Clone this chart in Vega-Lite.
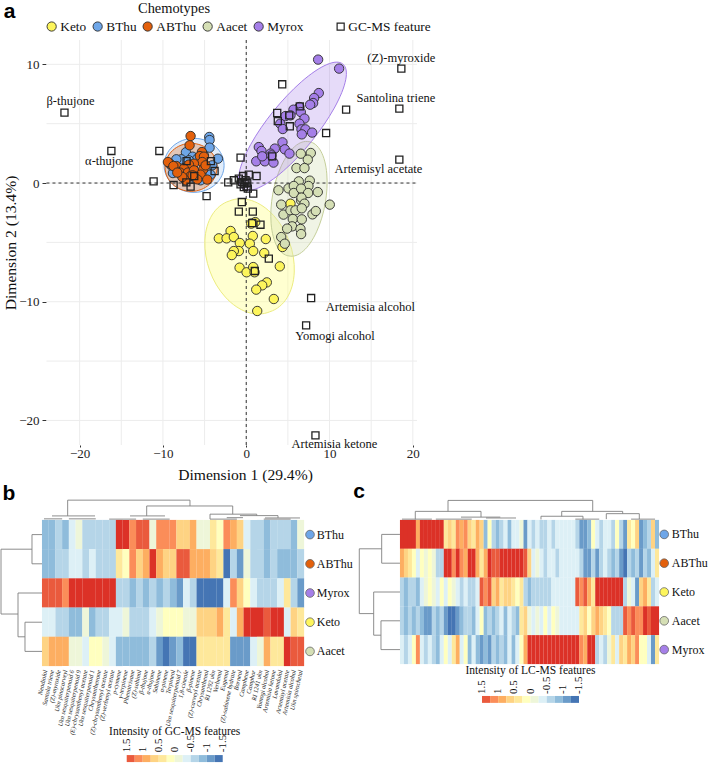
{"$schema":"https://vega.github.io/schema/vega-lite/v6.json","padding":{"top":1,"left":0,"right":0,"bottom":0},"autosize":{"type":"pad"},"background":"white","config":{"font":"Liberation Serif","view":{"stroke":null}},"columns":1,"align":"none","spacing":-2,"bounds":"full","concat":[
{"width":417,"height":405,"layer":[
{"data":{"values":[{"value":-20},{"value":-15},{"value":-10},{"value":-5},{"value":0},{"value":5},{"value":10},{"value":15},{"value":20}]},"mark":{"type":"rule","color":"#ececec","strokeWidth":1},"encoding":{"x":{"field":"value","type":"quantitative","scale":{"domain":[-29.56,20.5],"nice":false,"zero":false},"axis":{"title":"Dimension 1 (29.4%)","values":[-20,-10,0,10,20],"grid":false,"domain":false,"tickSize":2,"tickColor":"#333","labelFontSize":13,"labelColor":"#222","labelPadding":0,"titleFontSize":15.6,"titleFontWeight":"normal","titleColor":"#111","titleX":245,"titleY":22}},"y":{"datum":-22.07,"type":"quantitative","scale":{"domain":[-22.07,12.05],"nice":false,"zero":false},"axis":{"title":"Dimension 2 (13.4%)","offset":-46,"values":[-20,-10,0,10],"grid":false,"domain":false,"tickSize":4,"tickColor":"#333","labelFontSize":13,"labelColor":"#222","labelPadding":3,"titleFontSize":15.6,"titleFontWeight":"normal","titleColor":"#111","titlePadding":0}},"y2":{"datum":12.05}}},
{"data":{"values":[{"value":-20},{"value":-15},{"value":-10},{"value":-5},{"value":0},{"value":5},{"value":10}]},"mark":{"type":"rule","color":"#ececec","strokeWidth":1},"encoding":{"y":{"field":"value","type":"quantitative","scale":{"domain":[-22.07,12.05],"nice":false,"zero":false}},"x":{"datum":-23.98,"type":"quantitative","scale":{"domain":[-29.56,20.5],"nice":false,"zero":false}},"x2":{"datum":20.5}}},
{"data":{"values":[{"chemotype":"Keto","x":0.40,"y":-6.18}]},"mark":{"type":"point","shape":"M-20.2 -55.4A59 41 70 1 1 20.2 55.4A59 41 70 1 1 -20.2 -55.4Z","size":4,"filled":true,"fill":"#ffff90","fillOpacity":0.42,"stroke":"#ecec80","strokeWidth":1,"opacity":1},"encoding":{"x":{"field":"x","type":"quantitative","scale":{"domain":[-29.56,20.5],"nice":false,"zero":false}},"y":{"field":"y","type":"quantitative","scale":{"domain":[-22.07,12.05],"nice":false,"zero":false}}}},
{"data":{"values":[{"chemotype":"Aacet","x":6.33,"y":-1.33}]},"mark":{"type":"point","shape":"M-10.07 57.1A58 26 -80 1 1 10.07 -57.1A58 26 -80 1 1 -10.07 57.1Z","size":4,"filled":true,"fill":"#d5dfb5","fillOpacity":0.35,"stroke":"#c5cf9a","strokeWidth":1,"opacity":1},"encoding":{"x":{"field":"x","type":"quantitative","scale":{"domain":[-29.56,20.5],"nice":false,"zero":false}},"y":{"field":"y","type":"quantitative","scale":{"domain":[-22.07,12.05],"nice":false,"zero":false}}}},
{"data":{"values":[{"chemotype":"Myrox","x":5.55,"y":4.78}]},"mark":{"type":"point","shape":"M-50.3 62.2A80 24 -51 1 1 50.3 -62.2A80 24 -51 1 1 -50.3 62.2Z","size":4,"filled":true,"fill":"#a57fe8","fillOpacity":0.28,"stroke":"#a57fe8","strokeWidth":1,"opacity":1},"encoding":{"x":{"field":"x","type":"quantitative","scale":{"domain":[-29.56,20.5],"nice":false,"zero":false}},"y":{"field":"y","type":"quantitative","scale":{"domain":[-22.07,12.05],"nice":false,"zero":false}}}},
{"data":{"values":[{"chemotype":"BThu","x":-6.26,"y":1.49}]},"mark":{"type":"point","shape":"M-30 0A30 27 0 1 1 30 0A30 27 0 1 1 -30 0Z","size":4,"filled":true,"fill":"#6ea6e8","fillOpacity":0.2,"stroke":"#6ea6e8","strokeWidth":1,"opacity":1},"encoding":{"x":{"field":"x","type":"quantitative","scale":{"domain":[-29.56,20.5],"nice":false,"zero":false}},"y":{"field":"y","type":"quantitative","scale":{"domain":[-22.07,12.05],"nice":false,"zero":false}}}},
{"data":{"values":[{"chemotype":"ABThu","x":-6.62,"y":1.32}]},"mark":{"type":"point","shape":"M-26 0A26 24 0 1 1 26 0A26 24 0 1 1 -26 0Z","size":4,"filled":true,"fill":"#e3600c","fillOpacity":0.28,"stroke":"#e3600c","strokeWidth":1,"opacity":1},"encoding":{"x":{"field":"x","type":"quantitative","scale":{"domain":[-29.56,20.5],"nice":false,"zero":false}},"y":{"field":"y","type":"quantitative","scale":{"domain":[-22.07,12.05],"nice":false,"zero":false}}}},
{"data":{"values":[{"value":0}]},"mark":{"type":"rule","color":"#333","strokeDash":[3,3],"strokeWidth":1},"encoding":{"x":{"field":"value","type":"quantitative","scale":{"domain":[-29.56,20.5],"nice":false,"zero":false}}}},
{"data":{"values":[{"value":0}]},"mark":{"type":"rule","color":"#333","strokeDash":[3,3],"strokeWidth":1},"encoding":{"y":{"field":"value","type":"quantitative","scale":{"domain":[-22.07,12.05],"nice":false,"zero":false}},"x":{"datum":-23.98,"type":"quantitative","scale":{"domain":[-29.56,20.5],"nice":false,"zero":false}},"x2":{"datum":20.5}}},
{"data":{"values":[
{"chemotype":"BThu","x":-4.44,"y":3.88},{"chemotype":"BThu","x":-4.40,"y":3.62},{"chemotype":"BThu","x":-4.40,"y":2.98},{"chemotype":"BThu","x":-7.24,"y":2.59},{"chemotype":"BThu","x":-3.40,"y":2.05},{"chemotype":"BThu","x":-7.79,"y":2.0},{"chemotype":"BThu","x":-6.44,"y":2.22},{"chemotype":"BThu","x":-8.39,"y":2.0},{"chemotype":"BThu","x":-4.08,"y":1.49},{"chemotype":"BThu","x":-8.80,"y":0.84},{"chemotype":"BThu","x":-7.40,"y":1.15},{"chemotype":"BThu","x":-5.88,"y":2.05},{"chemotype":"BThu","x":-4.28,"y":0.71},{"chemotype":"BThu","x":-5.48,"y":0.23},{"chemotype":"BThu","x":-9.0,"y":1.49},{"chemotype":"BThu","x":-5.08,"y":2.33},{"chemotype":"BThu","x":-6.88,"y":1.91},{"chemotype":"BThu","x":-6.08,"y":0.37},
{"chemotype":"ABThu","x":-6.68,"y":3.96},{"chemotype":"ABThu","x":-6.80,"y":3.18},{"chemotype":"ABThu","x":-5.32,"y":2.61},{"chemotype":"ABThu","x":-5.56,"y":2.27},{"chemotype":"ABThu","x":-5.08,"y":2.22},{"chemotype":"ABThu","x":-5.28,"y":1.77},{"chemotype":"ABThu","x":-9.16,"y":1.63},{"chemotype":"ABThu","x":-9.40,"y":1.77},{"chemotype":"ABThu","x":-8.39,"y":1.43},{"chemotype":"ABThu","x":-8.75,"y":1.43},{"chemotype":"ABThu","x":-6.28,"y":1.63},{"chemotype":"ABThu","x":-6.88,"y":1.55},{"chemotype":"ABThu","x":-7.48,"y":1.21},{"chemotype":"ABThu","x":-7.96,"y":0.88},{"chemotype":"ABThu","x":-7.00,"y":0.88},{"chemotype":"ABThu","x":-5.16,"y":1.15},{"chemotype":"ABThu","x":-6.28,"y":1.07},{"chemotype":"ABThu","x":-5.48,"y":0.71},{"chemotype":"ABThu","x":-4.68,"y":0.29},{"chemotype":"ABThu","x":-5.88,"y":0.31},{"chemotype":"ABThu","x":-6.68,"y":0.59},{"chemotype":"ABThu","x":-7.28,"y":0.23},{"chemotype":"ABThu","x":-7.68,"y":0.51},{"chemotype":"ABThu","x":-8.28,"y":0.88},{"chemotype":"ABThu","x":-6.44,"y":0.65},{"chemotype":"ABThu","x":-4.88,"y":1.49},
{"chemotype":"Keto","x":5.31,"y":-1.74},{"chemotype":"Keto","x":1.08,"y":-3.29},{"chemotype":"Keto","x":0.60,"y":-3.42},{"chemotype":"Keto","x":-1.88,"y":-4.04},{"chemotype":"Keto","x":-3.29,"y":-4.66},{"chemotype":"Keto","x":-2.36,"y":-4.66},{"chemotype":"Keto","x":-1.49,"y":-4.55},{"chemotype":"Keto","x":-0.77,"y":-5.05},{"chemotype":"Keto","x":0.79,"y":-4.46},{"chemotype":"Keto","x":2.35,"y":-4.72},{"chemotype":"Keto","x":0.43,"y":-5.11},{"chemotype":"Keto","x":0.84,"y":-5.73},{"chemotype":"Keto","x":-0.89,"y":-5.73},{"chemotype":"Keto","x":-1.49,"y":-5.73},{"chemotype":"Keto","x":-1.73,"y":-6.07},{"chemotype":"Keto","x":2.16,"y":-5.90},{"chemotype":"Keto","x":4.03,"y":-7.02},{"chemotype":"Keto","x":4.35,"y":-5.39},{"chemotype":"Keto","x":-0.80,"y":-7.13},{"chemotype":"Keto","x":0.04,"y":-7.52},{"chemotype":"Keto","x":0.84,"y":-7.08},{"chemotype":"Keto","x":1.00,"y":-7.52},{"chemotype":"Keto","x":2.47,"y":-8.37},{"chemotype":"Keto","x":1.92,"y":-8.62},{"chemotype":"Keto","x":1.20,"y":-8.98},{"chemotype":"Keto","x":3.31,"y":-9.77},{"chemotype":"Keto","x":1.32,"y":-10.78},
{"chemotype":"Aacet","x":6.55,"y":2.47},{"chemotype":"Aacet","x":7.75,"y":2.53},{"chemotype":"Aacet","x":7.39,"y":1.97},{"chemotype":"Aacet","x":6.03,"y":1.26},{"chemotype":"Aacet","x":6.99,"y":1.26},{"chemotype":"Aacet","x":6.31,"y":0.14},{"chemotype":"Aacet","x":7.63,"y":0.20},{"chemotype":"Aacet","x":7.47,"y":-0.25},{"chemotype":"Aacet","x":5.07,"y":-0.45},{"chemotype":"Aacet","x":3.87,"y":-0.61},{"chemotype":"Aacet","x":5.71,"y":-0.25},{"chemotype":"Aacet","x":5.71,"y":-0.84},{"chemotype":"Aacet","x":6.59,"y":-0.47},{"chemotype":"Aacet","x":7.43,"y":-0.84},{"chemotype":"Aacet","x":8.59,"y":-0.76},{"chemotype":"Aacet","x":6.59,"y":-1.46},{"chemotype":"Aacet","x":6.63,"y":-1.23},{"chemotype":"Aacet","x":6.99,"y":-1.74},{"chemotype":"Aacet","x":4.20,"y":-1.82},{"chemotype":"Aacet","x":10.03,"y":-1.82},{"chemotype":"Aacet","x":4.47,"y":-2.66},{"chemotype":"Aacet","x":5.31,"y":-2.30},{"chemotype":"Aacet","x":5.91,"y":-2.30},{"chemotype":"Aacet","x":6.67,"y":-2.13},{"chemotype":"Aacet","x":7.95,"y":-2.64},{"chemotype":"Aacet","x":8.35,"y":-2.36},{"chemotype":"Aacet","x":5.59,"y":-3.03},{"chemotype":"Aacet","x":6.67,"y":-3.06},{"chemotype":"Aacet","x":5.51,"y":-3.65},{"chemotype":"Aacet","x":4.91,"y":-3.84},{"chemotype":"Aacet","x":6.51,"y":-3.87},{"chemotype":"Aacet","x":6.59,"y":-4.30},{"chemotype":"Aacet","x":4.20,"y":-4.55},{"chemotype":"Aacet","x":4.63,"y":-5.11},
{"chemotype":"Myrox","x":8.63,"y":10.40},{"chemotype":"Myrox","x":11.15,"y":9.64},{"chemotype":"Myrox","x":8.71,"y":7.58},{"chemotype":"Myrox","x":8.15,"y":7.16},{"chemotype":"Myrox","x":8.03,"y":6.74},{"chemotype":"Myrox","x":7.67,"y":6.60},{"chemotype":"Myrox","x":6.39,"y":6.40},{"chemotype":"Myrox","x":5.67,"y":6.18},{"chemotype":"Myrox","x":6.55,"y":5.98},{"chemotype":"Myrox","x":4.71,"y":5.64},{"chemotype":"Myrox","x":5.31,"y":5.70},{"chemotype":"Myrox","x":6.99,"y":5.43},{"chemotype":"Myrox","x":6.39,"y":5.00},{"chemotype":"Myrox","x":4.08,"y":5.00},{"chemotype":"Myrox","x":4.39,"y":4.55},{"chemotype":"Myrox","x":6.63,"y":4.52},{"chemotype":"Myrox","x":7.11,"y":4.52},{"chemotype":"Myrox","x":7.91,"y":4.25},{"chemotype":"Myrox","x":6.67,"y":4.10},{"chemotype":"Myrox","x":4.35,"y":3.43},{"chemotype":"Myrox","x":1.51,"y":3.03},{"chemotype":"Myrox","x":1.83,"y":2.70},{"chemotype":"Myrox","x":4.63,"y":2.84},{"chemotype":"Myrox","x":5.19,"y":2.48},{"chemotype":"Myrox","x":3.43,"y":2.90},{"chemotype":"Myrox","x":2.91,"y":2.48},{"chemotype":"Myrox","x":1.20,"y":1.83},{"chemotype":"Myrox","x":2.23,"y":1.83},{"chemotype":"Myrox","x":3.27,"y":1.72},{"chemotype":"Myrox","x":1.92,"y":2.25},{"chemotype":"Myrox","x":3.03,"y":2.33}
]},"mark":{"type":"point","filled":true,"stroke":"#2a2a2a","strokeWidth":0.9,"size":88,"opacity":1},"encoding":{"x":{"field":"x","type":"quantitative","scale":{"domain":[-29.56,20.5],"nice":false,"zero":false}},"y":{"field":"y","type":"quantitative","scale":{"domain":[-22.07,12.05],"nice":false,"zero":false}},"color":{"field":"chemotype","type":"nominal","scale":{"domain":["Keto","BThu","ABThu","Aacet","Myrox"],"range":["#fdf55c","#6ea6e8","#e3600c","#d5dfb5","#a57fe8"]},"legend":{"orient":"none","legendX":45,"legendY":-38,"direction":"horizontal","columns":5,"title":"Chemotypes","titleFontSize":14.4,"titleFontWeight":"normal","titleColor":"#111","titleAnchor":"middle","titlePadding":3,"labelFontSize":13.3,"labelColor":"#111","labelOffset":2,"columnPadding":4,"symbolSize":85,"symbolStrokeColor":"#2a2a2a","symbolStrokeWidth":0.9,"symbolOpacity":1}}}},
{"data":{"values":[{"kind":"GC-MS feature","x":-21.82,"y":5.93},{"kind":"GC-MS feature","x":-16.19,"y":2.70},{"kind":"GC-MS feature","x":-10.43,"y":2.70},{"kind":"GC-MS feature","x":-11.12,"y":0.14},{"kind":"GC-MS feature","x":-8.72,"y":-0.17},{"kind":"GC-MS feature","x":-7.19,"y":0.06},{"kind":"GC-MS feature","x":-6.68,"y":-0.30},{"kind":"GC-MS feature","x":-7.16,"y":1.85},{"kind":"GC-MS feature","x":-4.24,"y":1.85},{"kind":"GC-MS feature","x":-3.80,"y":1.01},{"kind":"GC-MS feature","x":-6.24,"y":0.59},{"kind":"GC-MS feature","x":-4.76,"y":-1.10},{"kind":"GC-MS feature","x":-0.68,"y":2.14},{"kind":"GC-MS feature","x":-2.16,"y":0.06},{"kind":"GC-MS feature","x":-1.49,"y":0.23},{"kind":"GC-MS feature","x":-0.36,"y":0.59},{"kind":"GC-MS feature","x":0.31,"y":0.71},{"kind":"GC-MS feature","x":1.24,"y":0.59},{"kind":"GC-MS feature","x":-0.89,"y":0.37},{"kind":"GC-MS feature","x":-0.48,"y":0.08},{"kind":"GC-MS feature","x":-0.20,"y":-0.05},{"kind":"GC-MS feature","x":0.04,"y":-0.28},{"kind":"GC-MS feature","x":-0.29,"y":-0.34},{"kind":"GC-MS feature","x":0.19,"y":-0.47},{"kind":"GC-MS feature","x":-0.08,"y":0.23},{"kind":"GC-MS feature","x":-0.68,"y":-0.11},{"kind":"GC-MS feature","x":0.12,"y":0},{"kind":"GC-MS feature","x":0.84,"y":-0.89},{"kind":"GC-MS feature","x":-0.53,"y":-1.60},{"kind":"GC-MS feature","x":-0.89,"y":-2.41},{"kind":"GC-MS feature","x":0.79,"y":-2.41},{"kind":"GC-MS feature","x":0.72,"y":-3.37},{"kind":"GC-MS feature","x":1.71,"y":-3.51},{"kind":"GC-MS feature","x":2.71,"y":-6.37},{"kind":"GC-MS feature","x":1.03,"y":-7.41},{"kind":"GC-MS feature","x":4.32,"y":8.32},{"kind":"GC-MS feature","x":6.43,"y":6.46},{"kind":"GC-MS feature","x":3.72,"y":5.90},{"kind":"GC-MS feature","x":5.16,"y":5.70},{"kind":"GC-MS feature","x":3.79,"y":5.22},{"kind":"GC-MS feature","x":5.23,"y":4.78},{"kind":"GC-MS feature","x":9.59,"y":4.21},{"kind":"GC-MS feature","x":11.99,"y":6.18},{"kind":"GC-MS feature","x":3.12,"y":2.25},{"kind":"GC-MS feature","x":18.62,"y":9.64},{"kind":"GC-MS feature","x":18.38,"y":6.27},{"kind":"GC-MS feature","x":18.38,"y":1.97},{"kind":"GC-MS feature","x":7.79,"y":-9.69},{"kind":"GC-MS feature","x":7.19,"y":-11.99},{"kind":"GC-MS feature","x":8.31,"y":-21.26}]},"mark":{"type":"point","filled":false,"color":"#222","strokeWidth":1.3,"size":50,"opacity":1},"encoding":{"x":{"field":"x","type":"quantitative","scale":{"domain":[-29.56,20.5],"nice":false,"zero":false}},"y":{"field":"y","type":"quantitative","scale":{"domain":[-22.07,12.05],"nice":false,"zero":false}},"shape":{"field":"kind","type":"nominal","scale":{"domain":["GC-MS feature"],"range":["square"]},"legend":{"orient":"none","legendX":334,"legendY":-20,"title":null,"labelFontSize":13.3,"labelColor":"#111","labelOffset":1,"symbolSize":50,"symbolStrokeColor":"#222","symbolStrokeWidth":1.2}}}},
{"data":{"values":[{"name":"(Z)-myroxide","x":18.62,"y":10.5},{"name":"β-thujone","x":-21.1,"y":6.88},{"name":"α-thujone","x":-16.45,"y":1.83},{"name":"Santolina triene","x":17.96,"y":7.13},{"name":"Artemisyl acetate","x":15.86,"y":1.15},{"name":"Artemisia alcohol","x":14.9,"y":-10.47},{"name":"Yomogi alcohol","x":10.65,"y":-12.91},{"name":"Artemisia ketone","x":10.59,"y":-22.0}]},"mark":{"type":"text","fontSize":12.5,"color":"#111"},"encoding":{"x":{"field":"x","type":"quantitative","scale":{"domain":[-29.56,20.5],"nice":false,"zero":false}},"y":{"field":"y","type":"quantitative","scale":{"domain":[-22.07,12.05],"nice":false,"zero":false}},"text":{"field":"name"}}},
{"data":{"values":[{"name":"a"}]},"mark":{"type":"text","font":"Liberation Sans","fontWeight":"bold","fontSize":21,"color":"#000"},"encoding":{"x":{"datum":-28.4,"type":"quantitative","scale":{"domain":[-29.56,20.5],"nice":false,"zero":false}},"y":{"datum":14.4,"type":"quantitative","scale":{"domain":[-22.07,12.05],"nice":false,"zero":false}},"text":{"field":"name"}}}
],"resolve":{"legend":{"color":"independent","shape":"independent"}}},
{"hconcat":[
{"width":352,"height":278,"layer":[
{"layer":[
{"data":{"values":[
{"col":0.5,"row":0.5,"z":-0.9},{"col":1.5,"row":0.5,"z":-0.9},{"col":2.5,"row":0.5,"z":-0.6},{"col":3.5,"row":0.5,"z":-0.9},{"col":4.5,"row":0.5,"z":-0.4},{"col":5.5,"row":0.5,"z":-0.1},{"col":6.5,"row":0.5,"z":-0.6},{"col":7.5,"row":0.5,"z":-0.6},{"col":8.5,"row":0.5,"z":-0.6},{"col":9.5,"row":0.5,"z":-0.6},{"col":10.5,"row":0.5,"z":-0.6},{"col":11.5,"row":0.5,"z":1.6},{"col":12.5,"row":0.5,"z":1.6},{"col":13.5,"row":0.5,"z":1.1},{"col":14.5,"row":0.5,"z":1.4},{"col":15.5,"row":0.5,"z":1.4},{"col":16.5,"row":0.5,"z":-0.1},{"col":17.5,"row":0.5,"z":1.1},{"col":18.5,"row":0.5,"z":1.1},{"col":19.5,"row":0.5,"z":1.1},{"col":20.5,"row":0.5,"z":0.6},{"col":21.5,"row":0.5,"z":0.6},{"col":22.5,"row":0.5,"z":0.9},{"col":23.5,"row":0.5,"z":-0.1},{"col":24.5,"row":0.5,"z":-0.1},{"col":25.5,"row":0.5,"z":0.4},{"col":26.5,"row":0.5,"z":0.1},{"col":27.5,"row":0.5,"z":1.1},{"col":28.5,"row":0.5,"z":0.9},{"col":29.5,"row":0.5,"z":0.6},{"col":30.5,"row":0.5,"z":-0.4},{"col":31.5,"row":0.5,"z":-0.6},{"col":32.5,"row":0.5,"z":-0.6},{"col":33.5,"row":0.5,"z":-0.9},{"col":34.5,"row":0.5,"z":-0.6},{"col":35.5,"row":0.5,"z":-0.6},{"col":36.5,"row":0.5,"z":-0.6},{"col":37.5,"row":0.5,"z":-0.9},{"col":38.5,"row":0.5,"z":-0.1},
{"col":0.5,"row":1.5,"z":-0.9},{"col":1.5,"row":1.5,"z":-0.9},{"col":2.5,"row":1.5,"z":-0.6},{"col":3.5,"row":1.5,"z":-0.6},{"col":4.5,"row":1.5,"z":-0.4},{"col":5.5,"row":1.5,"z":-0.4},{"col":6.5,"row":1.5,"z":-0.6},{"col":7.5,"row":1.5,"z":-0.4},{"col":8.5,"row":1.5,"z":-0.6},{"col":9.5,"row":1.5,"z":-0.6},{"col":10.5,"row":1.5,"z":-0.6},{"col":11.5,"row":1.5,"z":0.4},{"col":12.5,"row":1.5,"z":0.1},{"col":13.5,"row":1.5,"z":1.1},{"col":14.5,"row":1.5,"z":0.6},{"col":15.5,"row":1.5,"z":0.9},{"col":16.5,"row":1.5,"z":1.6},{"col":17.5,"row":1.5,"z":0.9},{"col":18.5,"row":1.5,"z":0.6},{"col":19.5,"row":1.5,"z":0.6},{"col":20.5,"row":1.5,"z":1.4},{"col":21.5,"row":1.5,"z":1.4},{"col":22.5,"row":1.5,"z":0.9},{"col":23.5,"row":1.5,"z":0.9},{"col":24.5,"row":1.5,"z":0.9},{"col":25.5,"row":1.5,"z":0.6},{"col":26.5,"row":1.5,"z":0.4},{"col":27.5,"row":1.5,"z":-1.4},{"col":28.5,"row":1.5,"z":-0.6},{"col":29.5,"row":1.5,"z":-1.1},{"col":30.5,"row":1.5,"z":-0.1},{"col":31.5,"row":1.5,"z":-0.6},{"col":32.5,"row":1.5,"z":-0.6},{"col":33.5,"row":1.5,"z":-0.9},{"col":34.5,"row":1.5,"z":-0.6},{"col":35.5,"row":1.5,"z":-0.9},{"col":36.5,"row":1.5,"z":-0.9},{"col":37.5,"row":1.5,"z":-0.9},{"col":38.5,"row":1.5,"z":-0.6},
{"col":0.5,"row":2.5,"z":1.4},{"col":1.5,"row":2.5,"z":1.4},{"col":2.5,"row":2.5,"z":1.4},{"col":3.5,"row":2.5,"z":1.1},{"col":4.5,"row":2.5,"z":1.6},{"col":5.5,"row":2.5,"z":1.6},{"col":6.5,"row":2.5,"z":1.6},{"col":7.5,"row":2.5,"z":1.6},{"col":8.5,"row":2.5,"z":1.6},{"col":9.5,"row":2.5,"z":1.6},{"col":10.5,"row":2.5,"z":1.6},{"col":11.5,"row":2.5,"z":-0.6},{"col":12.5,"row":2.5,"z":-0.6},{"col":13.5,"row":2.5,"z":-0.9},{"col":14.5,"row":2.5,"z":-0.6},{"col":15.5,"row":2.5,"z":-0.9},{"col":16.5,"row":2.5,"z":-0.6},{"col":17.5,"row":2.5,"z":-0.9},{"col":18.5,"row":2.5,"z":-0.6},{"col":19.5,"row":2.5,"z":-0.9},{"col":20.5,"row":2.5,"z":-1.1},{"col":21.5,"row":2.5,"z":-0.4},{"col":22.5,"row":2.5,"z":-0.6},{"col":23.5,"row":2.5,"z":-1.4},{"col":24.5,"row":2.5,"z":-1.4},{"col":25.5,"row":2.5,"z":-1.4},{"col":26.5,"row":2.5,"z":-1.4},{"col":27.5,"row":2.5,"z":-0.4},{"col":28.5,"row":2.5,"z":1.1},{"col":29.5,"row":2.5,"z":0.6},{"col":30.5,"row":2.5,"z":0.1},{"col":31.5,"row":2.5,"z":-0.4},{"col":32.5,"row":2.5,"z":-0.6},{"col":33.5,"row":2.5,"z":-0.6},{"col":34.5,"row":2.5,"z":-0.6},{"col":35.5,"row":2.5,"z":-0.4},{"col":36.5,"row":2.5,"z":0.4},{"col":37.5,"row":2.5,"z":-0.6},{"col":38.5,"row":2.5,"z":-1.1},
{"col":0.5,"row":3.5,"z":-0.4},{"col":1.5,"row":3.5,"z":-0.4},{"col":2.5,"row":3.5,"z":-0.6},{"col":3.5,"row":3.5,"z":-0.6},{"col":4.5,"row":3.5,"z":-0.9},{"col":5.5,"row":3.5,"z":-0.9},{"col":6.5,"row":3.5,"z":-0.1},{"col":7.5,"row":3.5,"z":-0.9},{"col":8.5,"row":3.5,"z":-0.6},{"col":9.5,"row":3.5,"z":-0.6},{"col":10.5,"row":3.5,"z":-0.4},{"col":11.5,"row":3.5,"z":-0.4},{"col":12.5,"row":3.5,"z":-0.1},{"col":13.5,"row":3.5,"z":-0.6},{"col":14.5,"row":3.5,"z":-0.6},{"col":15.5,"row":3.5,"z":-0.6},{"col":16.5,"row":3.5,"z":-0.4},{"col":17.5,"row":3.5,"z":-0.1},{"col":18.5,"row":3.5,"z":0.1},{"col":19.5,"row":3.5,"z":0.1},{"col":20.5,"row":3.5,"z":0.1},{"col":21.5,"row":3.5,"z":-0.1},{"col":22.5,"row":3.5,"z":-0.1},{"col":23.5,"row":3.5,"z":0.6},{"col":24.5,"row":3.5,"z":0.6},{"col":25.5,"row":3.5,"z":0.6},{"col":26.5,"row":3.5,"z":0.9},{"col":27.5,"row":3.5,"z":0.4},{"col":28.5,"row":3.5,"z":-0.4},{"col":29.5,"row":3.5,"z":0.9},{"col":30.5,"row":3.5,"z":1.6},{"col":31.5,"row":3.5,"z":1.6},{"col":32.5,"row":3.5,"z":1.6},{"col":33.5,"row":3.5,"z":1.4},{"col":34.5,"row":3.5,"z":1.6},{"col":35.5,"row":3.5,"z":1.6},{"col":36.5,"row":3.5,"z":-0.4},{"col":37.5,"row":3.5,"z":0.6},{"col":38.5,"row":3.5,"z":0.4},
{"col":0.5,"row":4.5,"z":0.6},{"col":1.5,"row":4.5,"z":0.9},{"col":2.5,"row":4.5,"z":0.9},{"col":3.5,"row":4.5,"z":0.9},{"col":4.5,"row":4.5,"z":-0.1},{"col":5.5,"row":4.5,"z":-0.1},{"col":6.5,"row":4.5,"z":-0.4},{"col":7.5,"row":4.5,"z":0.1},{"col":8.5,"row":4.5,"z":0.1},{"col":9.5,"row":4.5,"z":-0.1},{"col":10.5,"row":4.5,"z":-0.4},{"col":11.5,"row":4.5,"z":-0.9},{"col":12.5,"row":4.5,"z":-0.9},{"col":13.5,"row":4.5,"z":-0.9},{"col":14.5,"row":4.5,"z":-0.9},{"col":15.5,"row":4.5,"z":-0.9},{"col":16.5,"row":4.5,"z":-0.6},{"col":17.5,"row":4.5,"z":-1.1},{"col":18.5,"row":4.5,"z":-1.4},{"col":19.5,"row":4.5,"z":-1.1},{"col":20.5,"row":4.5,"z":-0.9},{"col":21.5,"row":4.5,"z":-1.4},{"col":22.5,"row":4.5,"z":-1.4},{"col":23.5,"row":4.5,"z":0.4},{"col":24.5,"row":4.5,"z":0.4},{"col":25.5,"row":4.5,"z":0.4},{"col":26.5,"row":4.5,"z":0.4},{"col":27.5,"row":4.5,"z":0.4},{"col":28.5,"row":4.5,"z":-1.1},{"col":29.5,"row":4.5,"z":-1.1},{"col":30.5,"row":4.5,"z":-1.1},{"col":31.5,"row":4.5,"z":-0.4},{"col":32.5,"row":4.5,"z":-0.1},{"col":33.5,"row":4.5,"z":0.9},{"col":34.5,"row":4.5,"z":0.4},{"col":35.5,"row":4.5,"z":0.4},{"col":36.5,"row":4.5,"z":1.6},{"col":37.5,"row":4.5,"z":1.4},{"col":38.5,"row":4.5,"z":1.4}
]},"mark":{"type":"rect","width":6.8,"height":29.4},"encoding":{"x":{"field":"col","type":"quantitative","axis":null,"title":null,"scale":{"domain":[-6.25,46.13],"nice":false,"zero":false}},"y":{"field":"row","type":"quantitative","axis":null,"title":null,"scale":{"domain":[-1.13,8.39],"reverse":true,"nice":false,"zero":false}},"color":{"field":"z","type":"quantitative","legend":null,"scale":{"domain":[-1.4,-1.1,-0.9,-0.6,-0.4,-0.1,0.1,0.4,0.6,0.9,1.1,1.4,1.6],"range":["#4575b4","#6a9bc9","#8fbcdb","#b5d5e8","#ddf0f6","#eef6d9","#ffffbf","#fee89b","#fed383","#fdae61","#fb8d59","#ea5a3d","#dc3127"]}}}},
{"data":{"values":[{"x":3.82,"y":-0.68,"x2":22.02,"y2":-0.68},{"x":3.82,"y":-0.68,"x2":3.82,"y2":-0.14},{"x":22.02,"y":-0.68,"x2":22.02,"y2":-0.48},{"x":15.58,"y":-0.48,"x2":28.38,"y2":-0.48},{"x":15.58,"y":-0.48,"x2":15.58,"y2":-0.14},{"x":28.38,"y":-0.48,"x2":28.38,"y2":-0.2},{"x":1.49,"y":-0.14,"x2":7.89,"y2":-0.14},{"x":13.1,"y":-0.14,"x2":18.3,"y2":-0.14},{"x":25,"y":-0.2,"x2":31.95,"y2":-0.2},{"x":25,"y":-0.2,"x2":25,"y2":-0.03},{"x":31.95,"y":-0.2,"x2":31.95,"y2":-0.15},{"x":27.49,"y":-0.08,"x2":29.91,"y2":-0.08},{"x":29.46,"y":-0.15,"x2":35.12,"y2":-0.15},{"x":35.12,"y":-0.15,"x2":35.12,"y2":-0.07},{"x":33.18,"y":-0.07,"x2":38.39,"y2":-0.07},{"x":0.3,"y":-0.04,"x2":3,"y2":-0.04},{"x":4,"y":-0.04,"x2":8,"y2":-0.04},{"x":10,"y":-0.03,"x2":14,"y2":-0.03},{"x":15,"y":-0.03,"x2":19,"y2":-0.03},{"x":25,"y":-0.03,"x2":29,"y2":-0.03},{"x":33,"y":-0.03,"x2":37,"y2":-0.03},{"x":-6.1,"y":1,"x2":-6.1,"y2":3.22},{"x":-6.1,"y":1,"x2":-1.49,"y2":1},{"x":-1.49,"y":0.5,"x2":-1.49,"y2":1.5},{"x":-1.49,"y":0.5,"x2":0,"y2":0.5},{"x":-1.49,"y":1.5,"x2":0,"y2":1.5},{"x":-6.1,"y":3.22,"x2":-3.57,"y2":3.22},{"x":-3.57,"y":2.5,"x2":-3.57,"y2":4},{"x":-3.57,"y":2.5,"x2":0,"y2":2.5},{"x":-3.57,"y":4,"x2":-2.53,"y2":4},{"x":-2.53,"y":3.5,"x2":-2.53,"y2":4.5},{"x":-2.53,"y":3.5,"x2":0,"y2":3.5},{"x":-2.53,"y":4.5,"x2":0,"y2":4.5}]},"mark":{"type":"rule","color":"#808080","strokeWidth":0.9},"encoding":{"x":{"field":"x","type":"quantitative","axis":null,"title":null,"scale":{"domain":[-6.25,46.13],"nice":false,"zero":false}},"x2":{"field":"x2"},"y":{"field":"y","type":"quantitative","axis":null,"title":null,"scale":{"domain":[-1.13,8.39],"reverse":true,"nice":false,"zero":false}},"y2":{"field":"y2"}}},
{"data":{"values":[{"col":0.5,"name":"Neodiolol"},{"col":1.5,"name":"Santola triene"},{"col":2.5,"name":"(Z)-myroxide"},{"col":3.5,"name":"Ukn pinocarveyl"},{"col":4.5,"name":"Ukn sesquiterpenoid 6"},{"col":5.5,"name":"Ukn sesquiterpenoid 9"},{"col":6.5,"name":"(E)-chrysanthenyl acetate"},{"col":7.5,"name":"Ukn sesquiterpenoid 1"},{"col":8.5,"name":"Chrysanthenone"},{"col":9.5,"name":"(Z)-chrysanthenyl acetate"},{"col":10.5,"name":"(Z)-verbenyl acetate"},{"col":11.5,"name":"p-cymene"},{"col":12.5,"name":"γ-terpinene"},{"col":13.5,"name":"Phenotrivane"},{"col":14.5,"name":"(Z)-sabinol"},{"col":15.5,"name":"β-thujone"},{"col":16.5,"name":"α-thujone"},{"col":17.5,"name":"Sabinene"},{"col":18.5,"name":"α-pinene"},{"col":19.5,"name":"Terpineol"},{"col":20.5,"name":"Ukn sesquiterpenoid 7"},{"col":21.5,"name":"1,8-cineole"},{"col":22.5,"name":"β-pinene"},{"col":23.5,"name":"(Z)-carveyl acetate"},{"col":24.5,"name":"Chrysanthenol"},{"col":25.5,"name":"RI 1292 ukn"},{"col":26.5,"name":"Verbenol"},{"col":27.5,"name":"Eugenol"},{"col":28.5,"name":"(Z)-sabinene hydrate"},{"col":29.5,"name":"Borneol"},{"col":30.5,"name":"Camphene"},{"col":31.5,"name":"Camphor"},{"col":32.5,"name":"RI 1241 ukn"},{"col":33.5,"name":"Yomogi alcohol"},{"col":34.5,"name":"Artemisia ketone"},{"col":35.5,"name":"Lavandulol"},{"col":36.5,"name":"Artemisyl acetate"},{"col":37.5,"name":"Artemisia alcohol"},{"col":38.5,"name":"Ukn spirochetal"}]},"mark":{"type":"text","angle":282,"align":"right","baseline":"middle","fontSize":6.4,"fontStyle":"italic","color":"#222"},"encoding":{"x":{"field":"col","type":"quantitative","axis":null,"title":null,"scale":{"domain":[-6.25,46.13],"nice":false,"zero":false}},"y":{"datum":5.14,"type":"quantitative","axis":null,"title":null,"scale":{"domain":[-1.13,8.39],"reverse":true,"nice":false,"zero":false}},"text":{"field":"name"}}},
{"data":{"values":[{"name":"BThu","row":0.5},{"name":"ABThu","row":1.5},{"name":"Myrox","row":2.5},{"name":"Keto","row":3.5},{"name":"Aacet","row":4.5}]},"mark":{"type":"point","filled":true,"stroke":"#666","strokeWidth":0.8,"size":75,"opacity":1},"encoding":{"x":{"datum":39.88,"type":"quantitative","axis":null,"title":null,"scale":{"domain":[-6.25,46.13],"nice":false,"zero":false}},"y":{"field":"row","type":"quantitative","axis":null,"title":null,"scale":{"domain":[-1.13,8.39],"reverse":true,"nice":false,"zero":false}},"fill":{"field":"name","type":"nominal","legend":null,"scale":{"domain":["Keto","BThu","ABThu","Aacet","Myrox"],"range":["#fdf55c","#6ea6e8","#e3600c","#d5dfb5","#a57fe8"]}}}},
{"data":{"values":[{"name":"BThu","row":0.5},{"name":"ABThu","row":1.5},{"name":"Myrox","row":2.5},{"name":"Keto","row":3.5},{"name":"Aacet","row":4.5}]},"mark":{"type":"text","align":"left","fontSize":12,"color":"#111"},"encoding":{"x":{"datum":40.88,"type":"quantitative","axis":null,"title":null,"scale":{"domain":[-6.25,46.13],"nice":false,"zero":false}},"y":{"field":"row","type":"quantitative","axis":null,"title":null,"scale":{"domain":[-1.13,8.39],"reverse":true,"nice":false,"zero":false}},"text":{"field":"name"}}},
{"data":{"values":[{"name":"b"}]},"mark":{"type":"text","font":"Liberation Sans","fontWeight":"bold","fontSize":21,"color":"#000"},"encoding":{"x":{"datum":-4.91,"type":"quantitative","axis":null,"title":null,"scale":{"domain":[-6.25,46.13],"nice":false,"zero":false}},"y":{"datum":-0.89,"type":"quantitative","axis":null,"title":null,"scale":{"domain":[-1.13,8.39],"reverse":true,"nice":false,"zero":false}},"text":{"field":"name"}}}
]},
{"layer":[
{"data":{"values":[{"from":1.5,"to":1.25,"z":1.4},{"from":1.25,"to":1,"z":1.1},{"from":1,"to":0.75,"z":0.9},{"from":0.75,"to":0.5,"z":0.6},{"from":0.5,"to":0.25,"z":0.4},{"from":0.25,"to":0,"z":0.1},{"from":0,"to":-0.25,"z":-0.1},{"from":-0.25,"to":-0.5,"z":-0.4},{"from":-0.5,"to":-0.75,"z":-0.6},{"from":-0.75,"to":-1,"z":-0.9},{"from":-1,"to":-1.25,"z":-1.1},{"from":-1.25,"to":-1.5,"z":-1.4}]},"mark":{"type":"rect"},"encoding":{"x":{"field":"from","type":"quantitative","axis":null,"title":null,"scale":{"domain":[5.46,-5.54],"nice":false,"zero":false}},"x2":{"field":"to"},"y":{"datum":8.05,"type":"quantitative","axis":null,"title":null,"scale":{"domain":[-1.13,8.39],"reverse":true,"nice":false,"zero":false}},"y2":{"datum":8.29},"color":{"field":"z","type":"quantitative","legend":null,"scale":{"domain":[-1.4,-1.1,-0.9,-0.6,-0.4,-0.1,0.1,0.4,0.6,0.9,1.1,1.4,1.6],"range":["#4575b4","#6a9bc9","#8fbcdb","#b5d5e8","#ddf0f6","#eef6d9","#ffffbf","#fee89b","#fed383","#fdae61","#fb8d59","#ea5a3d","#dc3127"]}}}},
{"data":{"values":[{"v":1.5,"label":"1.5"},{"v":1,"label":"1"},{"v":0.5,"label":"0.5"},{"v":0,"label":"0"},{"v":-0.5,"label":"-0.5"},{"v":-1,"label":"-1"},{"v":-1.5,"label":"-1.5"}]},"mark":{"type":"text","angle":270,"align":"left","baseline":"middle","fontSize":11,"color":"#111"},"encoding":{"x":{"field":"v","type":"quantitative","axis":null,"title":null,"scale":{"domain":[5.46,-5.54],"nice":false,"zero":false}},"y":{"datum":7.95,"type":"quantitative","axis":null,"title":null,"scale":{"domain":[-1.13,8.39],"reverse":true,"nice":false,"zero":false}},"text":{"field":"label"}}},
{"data":{"values":[{"v":0,"label":"Intensity of GC-MS features"}]},"mark":{"type":"text","fontSize":11.5,"color":"#111"},"encoding":{"x":{"field":"v","type":"quantitative","axis":null,"title":null,"scale":{"domain":[5.46,-5.54],"nice":false,"zero":false}},"y":{"datum":7.26,"type":"quantitative","axis":null,"title":null,"scale":{"domain":[-1.13,8.39],"reverse":true,"nice":false,"zero":false}},"text":{"field":"label"}}}
]}
],"resolve":{"scale":{"x":"independent"}}},
{"width":356,"height":278,"layer":[
{"layer":[
{"data":{"values":[
{"col":0.5,"row":0.5,"z":1.6},{"col":1.5,"row":0.5,"z":1.6},{"col":2.5,"row":0.5,"z":1.6},{"col":3.5,"row":0.5,"z":1.6},{"col":4.5,"row":0.5,"z":0.9},{"col":5.5,"row":0.5,"z":1.6},{"col":6.5,"row":0.5,"z":1.6},{"col":7.5,"row":0.5,"z":1.6},{"col":8.5,"row":0.5,"z":1.6},{"col":9.5,"row":0.5,"z":1.6},{"col":10.5,"row":0.5,"z":1.6},{"col":11.5,"row":0.5,"z":0.4},{"col":12.5,"row":0.5,"z":0.6},{"col":13.5,"row":0.5,"z":0.4},{"col":14.5,"row":0.5,"z":1.1},{"col":15.5,"row":0.5,"z":0.9},{"col":16.5,"row":0.5,"z":1.1},{"col":17.5,"row":0.5,"z":0.6},{"col":18.5,"row":0.5,"z":0.4},{"col":19.5,"row":0.5,"z":0.9},{"col":20.5,"row":0.5,"z":0.6},{"col":21.5,"row":0.5,"z":-0.9},{"col":22.5,"row":0.5,"z":0.1},{"col":23.5,"row":0.5,"z":-0.6},{"col":24.5,"row":0.5,"z":-0.9},{"col":25.5,"row":0.5,"z":-0.6},{"col":26.5,"row":0.5,"z":-0.4},{"col":27.5,"row":0.5,"z":-0.9},{"col":28.5,"row":0.5,"z":-0.4},{"col":29.5,"row":0.5,"z":-0.4},{"col":30.5,"row":0.5,"z":-0.1},{"col":31.5,"row":0.5,"z":-1.1},{"col":32.5,"row":0.5,"z":-0.4},{"col":33.5,"row":0.5,"z":-0.6},{"col":34.5,"row":0.5,"z":-0.4},{"col":35.5,"row":0.5,"z":-0.6},{"col":36.5,"row":0.5,"z":-0.6},{"col":37.5,"row":0.5,"z":-0.4},{"col":38.5,"row":0.5,"z":-0.6},{"col":39.5,"row":0.5,"z":-0.4},{"col":40.5,"row":0.5,"z":-0.4},{"col":41.5,"row":0.5,"z":-0.4},{"col":42.5,"row":0.5,"z":-0.4},{"col":43.5,"row":0.5,"z":-0.4},{"col":44.5,"row":0.5,"z":-0.6},{"col":45.5,"row":0.5,"z":-1.1},{"col":46.5,"row":0.5,"z":-1.1},{"col":47.5,"row":0.5,"z":-0.9},{"col":48.5,"row":0.5,"z":0.1},{"col":49.5,"row":0.5,"z":-0.4},{"col":50.5,"row":0.5,"z":-0.6},{"col":51.5,"row":0.5,"z":-0.4},{"col":52.5,"row":0.5,"z":-0.4},{"col":53.5,"row":0.5,"z":-0.6},{"col":54.5,"row":0.5,"z":0.1},{"col":55.5,"row":0.5,"z":-0.6},{"col":56.5,"row":0.5,"z":-1.1},{"col":57.5,"row":0.5,"z":0.4},{"col":58.5,"row":0.5,"z":0.1},{"col":59.5,"row":0.5,"z":0.6},{"col":60.5,"row":0.5,"z":-1.1},{"col":61.5,"row":0.5,"z":-0.9},{"col":62.5,"row":0.5,"z":-0.6},{"col":63.5,"row":0.5,"z":0.6},{"col":64.5,"row":0.5,"z":-0.9},
{"col":0.5,"row":1.5,"z":0.9},{"col":1.5,"row":1.5,"z":0.6},{"col":2.5,"row":1.5,"z":0.4},{"col":3.5,"row":1.5,"z":0.1},{"col":4.5,"row":1.5,"z":-0.4},{"col":5.5,"row":1.5,"z":0.1},{"col":6.5,"row":1.5,"z":-0.1},{"col":7.5,"row":1.5,"z":0.1},{"col":8.5,"row":1.5,"z":-0.1},{"col":9.5,"row":1.5,"z":-0.6},{"col":10.5,"row":1.5,"z":-0.6},{"col":11.5,"row":1.5,"z":1.6},{"col":12.5,"row":1.5,"z":1.6},{"col":13.5,"row":1.5,"z":1.1},{"col":14.5,"row":1.5,"z":1.6},{"col":15.5,"row":1.5,"z":1.1},{"col":16.5,"row":1.5,"z":0.9},{"col":17.5,"row":1.5,"z":1.6},{"col":18.5,"row":1.5,"z":1.6},{"col":19.5,"row":1.5,"z":0.9},{"col":20.5,"row":1.5,"z":0.4},{"col":21.5,"row":1.5,"z":0.9},{"col":22.5,"row":1.5,"z":1.6},{"col":23.5,"row":1.5,"z":1.4},{"col":24.5,"row":1.5,"z":1.4},{"col":25.5,"row":1.5,"z":1.6},{"col":26.5,"row":1.5,"z":1.6},{"col":27.5,"row":1.5,"z":1.6},{"col":28.5,"row":1.5,"z":1.6},{"col":29.5,"row":1.5,"z":1.6},{"col":30.5,"row":1.5,"z":1.6},{"col":31.5,"row":1.5,"z":1.4},{"col":32.5,"row":1.5,"z":0.6},{"col":33.5,"row":1.5,"z":-0.4},{"col":34.5,"row":1.5,"z":-0.1},{"col":35.5,"row":1.5,"z":-0.4},{"col":36.5,"row":1.5,"z":-0.6},{"col":37.5,"row":1.5,"z":-0.4},{"col":38.5,"row":1.5,"z":-0.4},{"col":39.5,"row":1.5,"z":-0.6},{"col":40.5,"row":1.5,"z":-0.4},{"col":41.5,"row":1.5,"z":-0.4},{"col":42.5,"row":1.5,"z":-0.4},{"col":43.5,"row":1.5,"z":-0.4},{"col":44.5,"row":1.5,"z":-0.4},{"col":45.5,"row":1.5,"z":-0.6},{"col":46.5,"row":1.5,"z":-1.1},{"col":47.5,"row":1.5,"z":-1.1},{"col":48.5,"row":1.5,"z":-0.6},{"col":49.5,"row":1.5,"z":-1.1},{"col":50.5,"row":1.5,"z":-0.6},{"col":51.5,"row":1.5,"z":-0.4},{"col":52.5,"row":1.5,"z":-0.6},{"col":53.5,"row":1.5,"z":-0.9},{"col":54.5,"row":1.5,"z":-0.6},{"col":55.5,"row":1.5,"z":-1.1},{"col":56.5,"row":1.5,"z":-1.4},{"col":57.5,"row":1.5,"z":-0.6},{"col":58.5,"row":1.5,"z":-0.9},{"col":59.5,"row":1.5,"z":-0.6},{"col":60.5,"row":1.5,"z":-1.1},{"col":61.5,"row":1.5,"z":-0.6},{"col":62.5,"row":1.5,"z":-0.9},{"col":63.5,"row":1.5,"z":-0.4},{"col":64.5,"row":1.5,"z":0.4},
{"col":0.5,"row":2.5,"z":-0.6},{"col":1.5,"row":2.5,"z":-0.9},{"col":2.5,"row":2.5,"z":-0.6},{"col":3.5,"row":2.5,"z":-0.6},{"col":4.5,"row":2.5,"z":-0.9},{"col":5.5,"row":2.5,"z":-0.4},{"col":6.5,"row":2.5,"z":-0.1},{"col":7.5,"row":2.5,"z":0.1},{"col":8.5,"row":2.5,"z":-0.1},{"col":9.5,"row":2.5,"z":-0.4},{"col":10.5,"row":2.5,"z":0.1},{"col":11.5,"row":2.5,"z":-0.4},{"col":12.5,"row":2.5,"z":0.1},{"col":13.5,"row":2.5,"z":-0.1},{"col":14.5,"row":2.5,"z":-0.4},{"col":15.5,"row":2.5,"z":-0.6},{"col":16.5,"row":2.5,"z":-0.4},{"col":17.5,"row":2.5,"z":-0.6},{"col":18.5,"row":2.5,"z":-0.6},{"col":19.5,"row":2.5,"z":-0.4},{"col":20.5,"row":2.5,"z":1.4},{"col":21.5,"row":2.5,"z":1.1},{"col":22.5,"row":2.5,"z":1.4},{"col":23.5,"row":2.5,"z":0.6},{"col":24.5,"row":2.5,"z":0.9},{"col":25.5,"row":2.5,"z":0.4},{"col":26.5,"row":2.5,"z":0.6},{"col":27.5,"row":2.5,"z":0.6},{"col":28.5,"row":2.5,"z":0.4},{"col":29.5,"row":2.5,"z":0.1},{"col":30.5,"row":2.5,"z":0.4},{"col":31.5,"row":2.5,"z":-0.6},{"col":32.5,"row":2.5,"z":-0.9},{"col":33.5,"row":2.5,"z":-0.6},{"col":34.5,"row":2.5,"z":-0.6},{"col":35.5,"row":2.5,"z":-0.6},{"col":36.5,"row":2.5,"z":-0.6},{"col":37.5,"row":2.5,"z":-0.6},{"col":38.5,"row":2.5,"z":-0.4},{"col":39.5,"row":2.5,"z":-0.4},{"col":40.5,"row":2.5,"z":-0.4},{"col":41.5,"row":2.5,"z":-0.4},{"col":42.5,"row":2.5,"z":-0.4},{"col":43.5,"row":2.5,"z":-0.4},{"col":44.5,"row":2.5,"z":1.4},{"col":45.5,"row":2.5,"z":1.1},{"col":46.5,"row":2.5,"z":1.4},{"col":47.5,"row":2.5,"z":0.9},{"col":48.5,"row":2.5,"z":0.4},{"col":49.5,"row":2.5,"z":1.6},{"col":50.5,"row":2.5,"z":1.6},{"col":51.5,"row":2.5,"z":1.6},{"col":52.5,"row":2.5,"z":1.6},{"col":53.5,"row":2.5,"z":1.6},{"col":54.5,"row":2.5,"z":1.6},{"col":55.5,"row":2.5,"z":1.6},{"col":56.5,"row":2.5,"z":-0.6},{"col":57.5,"row":2.5,"z":-0.1},{"col":58.5,"row":2.5,"z":-0.4},{"col":59.5,"row":2.5,"z":-1.1},{"col":60.5,"row":2.5,"z":0.6},{"col":61.5,"row":2.5,"z":0.9},{"col":62.5,"row":2.5,"z":0.4},{"col":63.5,"row":2.5,"z":-0.6},{"col":64.5,"row":2.5,"z":-0.4},
{"col":0.5,"row":3.5,"z":-0.6},{"col":1.5,"row":3.5,"z":-0.9},{"col":2.5,"row":3.5,"z":-0.6},{"col":3.5,"row":3.5,"z":-0.9},{"col":4.5,"row":3.5,"z":-0.6},{"col":5.5,"row":3.5,"z":-0.9},{"col":6.5,"row":3.5,"z":-1.1},{"col":7.5,"row":3.5,"z":-1.1},{"col":8.5,"row":3.5,"z":-0.6},{"col":9.5,"row":3.5,"z":-0.9},{"col":10.5,"row":3.5,"z":-0.6},{"col":11.5,"row":3.5,"z":-1.1},{"col":12.5,"row":3.5,"z":-1.4},{"col":13.5,"row":3.5,"z":-1.4},{"col":14.5,"row":3.5,"z":-1.1},{"col":15.5,"row":3.5,"z":-0.9},{"col":16.5,"row":3.5,"z":-0.6},{"col":17.5,"row":3.5,"z":-0.6},{"col":18.5,"row":3.5,"z":-0.9},{"col":19.5,"row":3.5,"z":-0.4},{"col":20.5,"row":3.5,"z":0.1},{"col":21.5,"row":3.5,"z":-0.9},{"col":22.5,"row":3.5,"z":-0.6},{"col":23.5,"row":3.5,"z":-0.9},{"col":24.5,"row":3.5,"z":-0.6},{"col":25.5,"row":3.5,"z":-0.4},{"col":26.5,"row":3.5,"z":-0.9},{"col":27.5,"row":3.5,"z":-0.4},{"col":28.5,"row":3.5,"z":-0.6},{"col":29.5,"row":3.5,"z":-0.9},{"col":30.5,"row":3.5,"z":0.4},{"col":31.5,"row":3.5,"z":0.6},{"col":32.5,"row":3.5,"z":-0.1},{"col":33.5,"row":3.5,"z":-0.4},{"col":34.5,"row":3.5,"z":-0.1},{"col":35.5,"row":3.5,"z":-0.4},{"col":36.5,"row":3.5,"z":0.1},{"col":37.5,"row":3.5,"z":-0.4},{"col":38.5,"row":3.5,"z":0.1},{"col":39.5,"row":3.5,"z":-0.1},{"col":40.5,"row":3.5,"z":-0.4},{"col":41.5,"row":3.5,"z":-0.4},{"col":42.5,"row":3.5,"z":-0.4},{"col":43.5,"row":3.5,"z":-0.4},{"col":44.5,"row":3.5,"z":-0.4},{"col":45.5,"row":3.5,"z":0.4},{"col":46.5,"row":3.5,"z":0.6},{"col":47.5,"row":3.5,"z":0.1},{"col":48.5,"row":3.5,"z":0.6},{"col":49.5,"row":3.5,"z":0.9},{"col":50.5,"row":3.5,"z":0.6},{"col":51.5,"row":3.5,"z":0.4},{"col":52.5,"row":3.5,"z":0.1},{"col":53.5,"row":3.5,"z":-0.6},{"col":54.5,"row":3.5,"z":-0.6},{"col":55.5,"row":3.5,"z":-0.6},{"col":56.5,"row":3.5,"z":1.4},{"col":57.5,"row":3.5,"z":1.1},{"col":58.5,"row":3.5,"z":1.4},{"col":59.5,"row":3.5,"z":1.1},{"col":60.5,"row":3.5,"z":1.1},{"col":61.5,"row":3.5,"z":1.6},{"col":62.5,"row":3.5,"z":1.4},{"col":63.5,"row":3.5,"z":1.6},{"col":64.5,"row":3.5,"z":1.6},
{"col":0.5,"row":4.5,"z":-0.4},{"col":1.5,"row":4.5,"z":-0.6},{"col":2.5,"row":4.5,"z":-0.4},{"col":3.5,"row":4.5,"z":0.1},{"col":4.5,"row":4.5,"z":1.1},{"col":5.5,"row":4.5,"z":-0.4},{"col":6.5,"row":4.5,"z":-0.6},{"col":7.5,"row":4.5,"z":-0.4},{"col":8.5,"row":4.5,"z":-0.6},{"col":9.5,"row":4.5,"z":-0.9},{"col":10.5,"row":4.5,"z":-0.4},{"col":11.5,"row":4.5,"z":0.1},{"col":12.5,"row":4.5,"z":-0.4},{"col":13.5,"row":4.5,"z":0.4},{"col":14.5,"row":4.5,"z":0.9},{"col":15.5,"row":4.5,"z":-0.4},{"col":16.5,"row":4.5,"z":0.1},{"col":17.5,"row":4.5,"z":-0.9},{"col":18.5,"row":4.5,"z":-0.4},{"col":19.5,"row":4.5,"z":-0.9},{"col":20.5,"row":4.5,"z":-1.1},{"col":21.5,"row":4.5,"z":-0.9},{"col":22.5,"row":4.5,"z":-1.1},{"col":23.5,"row":4.5,"z":-0.6},{"col":24.5,"row":4.5,"z":-0.9},{"col":25.5,"row":4.5,"z":-0.6},{"col":26.5,"row":4.5,"z":-0.9},{"col":27.5,"row":4.5,"z":-0.4},{"col":28.5,"row":4.5,"z":-0.9},{"col":29.5,"row":4.5,"z":-0.4},{"col":30.5,"row":4.5,"z":0.1},{"col":31.5,"row":4.5,"z":0.9},{"col":32.5,"row":4.5,"z":1.6},{"col":33.5,"row":4.5,"z":1.6},{"col":34.5,"row":4.5,"z":1.6},{"col":35.5,"row":4.5,"z":1.6},{"col":36.5,"row":4.5,"z":1.6},{"col":37.5,"row":4.5,"z":1.6},{"col":38.5,"row":4.5,"z":1.6},{"col":39.5,"row":4.5,"z":1.6},{"col":40.5,"row":4.5,"z":1.6},{"col":41.5,"row":4.5,"z":1.6},{"col":42.5,"row":4.5,"z":1.6},{"col":43.5,"row":4.5,"z":1.6},{"col":44.5,"row":4.5,"z":1.6},{"col":45.5,"row":4.5,"z":1.1},{"col":46.5,"row":4.5,"z":0.9},{"col":47.5,"row":4.5,"z":1.6},{"col":48.5,"row":4.5,"z":1.6},{"col":49.5,"row":4.5,"z":-0.6},{"col":50.5,"row":4.5,"z":-0.4},{"col":51.5,"row":4.5,"z":-0.6},{"col":52.5,"row":4.5,"z":-0.1},{"col":53.5,"row":4.5,"z":0.4},{"col":54.5,"row":4.5,"z":-0.4},{"col":55.5,"row":4.5,"z":0.6},{"col":56.5,"row":4.5,"z":0.4},{"col":57.5,"row":4.5,"z":0.9},{"col":58.5,"row":4.5,"z":0.6},{"col":59.5,"row":4.5,"z":1.1},{"col":60.5,"row":4.5,"z":0.1},{"col":61.5,"row":4.5,"z":0.1},{"col":62.5,"row":4.5,"z":-0.4},{"col":63.5,"row":4.5,"z":-1.1},{"col":64.5,"row":4.5,"z":0.4}
]},"mark":{"type":"rect","width":4.05,"height":29},"encoding":{"x":{"field":"col","type":"quantitative","axis":null,"title":null,"scale":{"domain":[-11.79,77.54],"nice":false,"zero":false}},"y":{"field":"row","type":"quantitative","axis":null,"title":null,"scale":{"domain":[-1.146,8.507],"reverse":true,"nice":false,"zero":false}},"color":{"field":"z","type":"quantitative","legend":null,"scale":{"domain":[-1.4,-1.1,-0.9,-0.6,-0.4,-0.1,0.1,0.4,0.6,0.9,1.1,1.4,1.6],"range":["#4575b4","#6a9bc9","#8fbcdb","#b5d5e8","#ddf0f6","#eef6d9","#ffffbf","#fee89b","#fed383","#fdae61","#fb8d59","#ea5a3d","#dc3127"]}}}},
{"data":{"values":[{"x":12.05,"y":-0.68,"x2":48.36,"y2":-0.68},{"x":12.05,"y":-0.68,"x2":12.05,"y2":-0.3},{"x":48.36,"y":-0.68,"x2":48.36,"y2":-0.3},{"x":3.84,"y":-0.3,"x2":20.33,"y2":-0.3},{"x":3.84,"y":-0.3,"x2":3.84,"y2":-0.02},{"x":20.33,"y":-0.3,"x2":20.33,"y2":-0.1},{"x":15.31,"y":-0.1,"x2":25.17,"y2":-0.1},{"x":21.58,"y":-0.07,"x2":29.11,"y2":-0.07},{"x":40.58,"y":-0.3,"x2":55.88,"y2":-0.3},{"x":40.58,"y":-0.3,"x2":40.58,"y2":-0.13},{"x":55.88,"y":-0.3,"x2":55.88,"y2":-0.22},{"x":35.38,"y":-0.13,"x2":45.92,"y2":-0.13},{"x":35.38,"y":-0.13,"x2":35.38,"y2":-0.02},{"x":45.92,"y":-0.13,"x2":45.92,"y2":-0.02},{"x":51.77,"y":-0.22,"x2":60.05,"y2":-0.22},{"x":51.77,"y":-0.22,"x2":51.77,"y2":-0.03},{"x":60.05,"y":-0.22,"x2":60.05,"y2":-0.03},{"x":0.5,"y":-0.03,"x2":8,"y2":-0.03},{"x":9,"y":-0.03,"x2":18,"y2":-0.03},{"x":44,"y":-0.03,"x2":50,"y2":-0.03},{"x":58,"y":-0.03,"x2":64,"y2":-0.03},{"x":-10.21,"y":1,"x2":-10.21,"y2":3.25},{"x":-10.21,"y":1,"x2":-4.59,"y2":1},{"x":-4.59,"y":0.5,"x2":-4.59,"y2":1.5},{"x":-4.59,"y":0.5,"x2":0,"y2":0.5},{"x":-4.59,"y":1.5,"x2":0,"y2":1.5},{"x":-10.21,"y":3.25,"x2":-6.6,"y2":3.25},{"x":-6.6,"y":2.5,"x2":-6.6,"y2":4},{"x":-6.6,"y":2.5,"x2":0,"y2":2.5},{"x":-6.6,"y":4,"x2":-4.77,"y2":4},{"x":-4.77,"y":3.5,"x2":-4.77,"y2":4.5},{"x":-4.77,"y":3.5,"x2":0,"y2":3.5},{"x":-4.77,"y":4.5,"x2":0,"y2":4.5}]},"mark":{"type":"rule","color":"#808080","strokeWidth":0.9},"encoding":{"x":{"field":"x","type":"quantitative","axis":null,"title":null,"scale":{"domain":[-11.79,77.54],"nice":false,"zero":false}},"x2":{"field":"x2"},"y":{"field":"y","type":"quantitative","axis":null,"title":null,"scale":{"domain":[-1.146,8.507],"reverse":true,"nice":false,"zero":false}},"y2":{"field":"y2"}}},
{"data":{"values":[{"name":"BThu","row":0.5},{"name":"ABThu","row":1.5},{"name":"Keto","row":2.5},{"name":"Aacet","row":3.5},{"name":"Myrox","row":4.5}]},"mark":{"type":"point","filled":true,"stroke":"#666","strokeWidth":0.8,"size":75,"opacity":1},"encoding":{"x":{"datum":66.3,"type":"quantitative","axis":null,"title":null,"scale":{"domain":[-11.79,77.54],"nice":false,"zero":false}},"y":{"field":"row","type":"quantitative","axis":null,"title":null,"scale":{"domain":[-1.146,8.507],"reverse":true,"nice":false,"zero":false}},"fill":{"field":"name","type":"nominal","legend":null,"scale":{"domain":["Keto","BThu","ABThu","Aacet","Myrox"],"range":["#fdf55c","#6ea6e8","#e3600c","#d5dfb5","#a57fe8"]}}}},
{"data":{"values":[{"name":"BThu","row":0.5},{"name":"ABThu","row":1.5},{"name":"Keto","row":2.5},{"name":"Aacet","row":3.5},{"name":"Myrox","row":4.5}]},"mark":{"type":"text","align":"left","fontSize":12,"color":"#111"},"encoding":{"x":{"datum":68.2,"type":"quantitative","axis":null,"title":null,"scale":{"domain":[-11.79,77.54],"nice":false,"zero":false}},"y":{"field":"row","type":"quantitative","axis":null,"title":null,"scale":{"domain":[-1.146,8.507],"reverse":true,"nice":false,"zero":false}},"text":{"field":"name"}}},
{"data":{"values":[{"name":"c"}]},"mark":{"type":"text","font":"Liberation Sans","fontWeight":"bold","fontSize":21,"color":"#000"},"encoding":{"x":{"datum":-10.29,"type":"quantitative","axis":null,"title":null,"scale":{"domain":[-11.79,77.54],"nice":false,"zero":false}},"y":{"datum":-0.96,"type":"quantitative","axis":null,"title":null,"scale":{"domain":[-1.146,8.507],"reverse":true,"nice":false,"zero":false}},"text":{"field":"name"}}}
]},
{"layer":[
{"data":{"values":[{"from":1.5,"to":1.25,"z":1.4},{"from":1.25,"to":1,"z":1.1},{"from":1,"to":0.75,"z":0.9},{"from":0.75,"to":0.5,"z":0.6},{"from":0.5,"to":0.25,"z":0.4},{"from":0.25,"to":0,"z":0.1},{"from":0,"to":-0.25,"z":-0.1},{"from":-0.25,"to":-0.5,"z":-0.4},{"from":-0.5,"to":-0.75,"z":-0.6},{"from":-0.75,"to":-1,"z":-0.9},{"from":-1,"to":-1.25,"z":-1.1},{"from":-1.25,"to":-1.5,"z":-1.4}]},"mark":{"type":"rect"},"encoding":{"x":{"field":"from","type":"quantitative","axis":null,"title":null,"scale":{"domain":[5.49,-5.52],"nice":false,"zero":false}},"x2":{"field":"to"},"y":{"datum":6.11,"type":"quantitative","axis":null,"title":null,"scale":{"domain":[-1.146,8.507],"reverse":true,"nice":false,"zero":false}},"y2":{"datum":6.35},"color":{"field":"z","type":"quantitative","legend":null,"scale":{"domain":[-1.4,-1.1,-0.9,-0.6,-0.4,-0.1,0.1,0.4,0.6,0.9,1.1,1.4,1.6],"range":["#4575b4","#6a9bc9","#8fbcdb","#b5d5e8","#ddf0f6","#eef6d9","#ffffbf","#fee89b","#fed383","#fdae61","#fb8d59","#ea5a3d","#dc3127"]}}}},
{"data":{"values":[{"v":1.5,"label":"1.5"},{"v":1,"label":"1"},{"v":0.5,"label":"0.5"},{"v":0,"label":"0"},{"v":-0.5,"label":"-0.5"},{"v":-1,"label":"-1"},{"v":-1.5,"label":"-1.5"}]},"mark":{"type":"text","angle":270,"align":"left","baseline":"middle","fontSize":11,"color":"#111"},"encoding":{"x":{"field":"v","type":"quantitative","axis":null,"title":null,"scale":{"domain":[5.49,-5.52],"nice":false,"zero":false}},"y":{"datum":6.04,"type":"quantitative","axis":null,"title":null,"scale":{"domain":[-1.146,8.507],"reverse":true,"nice":false,"zero":false}},"text":{"field":"label"}}},
{"data":{"values":[{"v":0,"label":"Intensity of LC-MS features"}]},"mark":{"type":"text","fontSize":11.5,"color":"#111"},"encoding":{"x":{"field":"v","type":"quantitative","axis":null,"title":null,"scale":{"domain":[5.49,-5.52],"nice":false,"zero":false}},"y":{"datum":5.24,"type":"quantitative","axis":null,"title":null,"scale":{"domain":[-1.146,8.507],"reverse":true,"nice":false,"zero":false}},"text":{"field":"label"}}}
]}
],"resolve":{"scale":{"x":"independent"}}}
],"spacing":-2}
]}
